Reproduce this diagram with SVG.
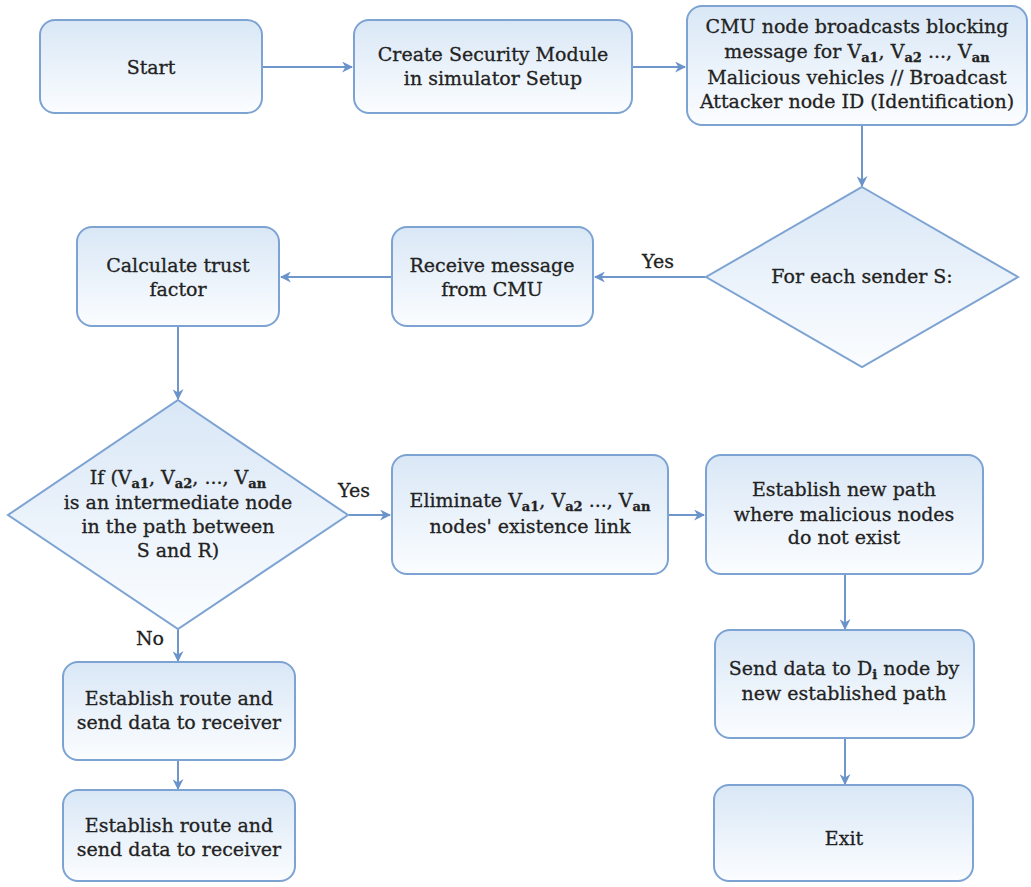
<svg xmlns="http://www.w3.org/2000/svg" width="1031" height="887" viewBox="0 0 1031 887">
  <defs>
    <linearGradient id="fill" x1="0" y1="0" x2="0" y2="1">
      <stop offset="0" stop-color="#d9e7f6"/>
      <stop offset="1" stop-color="#fbfdff"/>
    </linearGradient>
    <marker id="arrow" viewBox="0 0 10 10" refX="9" refY="5" markerWidth="11" markerHeight="11" markerUnits="userSpaceOnUse" orient="auto">
      <path d="M0,0 L10,5 L0,10 L3,5 Z" fill="#6a93c9"/>
    </marker>
  </defs>
  <style>
    .box { fill: url(#fill); stroke: #7da3d3; stroke-width: 2; }
    .edge { fill: none; stroke: #6f97cc; stroke-width: 2; marker-end: url(#arrow); }
    text { font-family: "DejaVu Serif", "Liberation Serif", serif; font-size: 19px; fill: #222; stroke: #222; stroke-width: 0.3; text-anchor: middle; }
    .sub { font-size: 13px; font-weight: bold; }
  </style>
  <rect width="1031" height="887" fill="#ffffff"/>

  <g id="connectors">
    <path class="edge" d="M262,67 L352,67"/>
    <path class="edge" d="M632,67 L685,67"/>
    <path class="edge" d="M862,125 L862,186"/>
    <path class="edge" d="M706,277 L595,277"/>
    <text x="658" y="268">Yes</text>
    <path class="edge" d="M391,277 L281,277"/>
    <path class="edge" d="M178,326 L178,399"/>
    <path class="edge" d="M349,515 L390,515"/>
    <text x="354" y="497">Yes</text>
    <path class="edge" d="M668,515 L704,515"/>
    <path class="edge" d="M845,575 L845,629"/>
    <path class="edge" d="M845,738 L845,784"/>
    <path class="edge" d="M178,629 L178,661"/>
    <text x="150" y="645">No</text>
    <path class="edge" d="M178,760 L178,789"/>
  </g>

  <g id="start">
    <rect class="box" x="40" y="20" width="222" height="93" rx="15"/>
    <text x="151" y="74">Start</text>
  </g>

  <g id="create-module">
    <rect class="box" x="354" y="20" width="278" height="93" rx="15"/>
    <text x="493" y="61">Create Security Module</text>
    <text x="493" y="85">in simulator Setup</text>
  </g>

  <g id="cmu-broadcast">
    <rect class="box" x="687" y="6" width="340" height="119" rx="15"/>
    <text x="857" y="33">CMU node broadcasts blocking</text>
    <text x="857" y="58">message for V<tspan class="sub" dy="4">a1</tspan><tspan dy="-4">, V</tspan><tspan class="sub" dy="4">a2</tspan><tspan dy="-4"> ..., V</tspan><tspan class="sub" dy="4">an</tspan></text>
    <text x="857" y="84">Malicious vehicles // Broadcast</text>
    <text x="857" y="108">Attacker node ID (Identification)</text>
  </g>

  <g id="for-each-sender">
    <polygon class="box" points="862,187 1018,277 862,367 706,277"/>
    <text x="862" y="283">For each sender S:</text>
  </g>

  <g id="receive-message">
    <rect class="box" x="392" y="227" width="201" height="99" rx="15"/>
    <text x="492" y="272">Receive message</text>
    <text x="492" y="296">from CMU</text>
  </g>

  <g id="trust-factor">
    <rect class="box" x="77" y="227" width="202" height="99" rx="15"/>
    <text x="178" y="272">Calculate trust</text>
    <text x="178" y="296">factor</text>
  </g>

  <g id="intermediate-check">
    <polygon class="box" points="178,400 348,515 178,629 8,515"/>
    <text x="178" y="484">If (V<tspan class="sub" dy="4">a1</tspan><tspan dy="-4">, V</tspan><tspan class="sub" dy="4">a2</tspan><tspan dy="-4">, ..., V</tspan><tspan class="sub" dy="4">an</tspan></text>
    <text x="178" y="509">is an intermediate node</text>
    <text x="178" y="533">in the path between</text>
    <text x="178" y="557">S and R)</text>
  </g>

  <g id="eliminate-links">
    <rect class="box" x="392" y="455" width="276" height="119" rx="15"/>
    <text x="530" y="507">Eliminate V<tspan class="sub" dy="4">a1</tspan><tspan dy="-4">, V</tspan><tspan class="sub" dy="4">a2</tspan><tspan dy="-4"> ..., V</tspan><tspan class="sub" dy="4">an</tspan></text>
    <text x="530" y="533">nodes' existence link</text>
  </g>

  <g id="new-path">
    <rect class="box" x="706" y="455" width="277" height="119" rx="15"/>
    <text x="844" y="496">Establish new path</text>
    <text x="844" y="521">where malicious nodes</text>
    <text x="844" y="544">do not exist</text>
  </g>

  <g id="send-data">
    <rect class="box" x="715" y="630" width="259" height="108" rx="15"/>
    <text x="844" y="675">Send data to D<tspan class="sub" dy="4">i</tspan><tspan dy="-4"> node by</tspan></text>
    <text x="844" y="700">new established path</text>
  </g>

  <g id="exit">
    <rect class="box" x="714" y="785" width="259" height="96" rx="15"/>
    <text x="844" y="845">Exit</text>
  </g>

  <g id="route-1">
    <rect class="box" x="63" y="662" width="232" height="98" rx="15"/>
    <text x="179" y="705">Establish route and</text>
    <text x="179" y="729">send data to receiver</text>
  </g>

  <g id="route-2">
    <rect class="box" x="63" y="790" width="232" height="91" rx="15"/>
    <text x="179" y="832">Establish route and</text>
    <text x="179" y="856">send data to receiver</text>
  </g>
</svg>
